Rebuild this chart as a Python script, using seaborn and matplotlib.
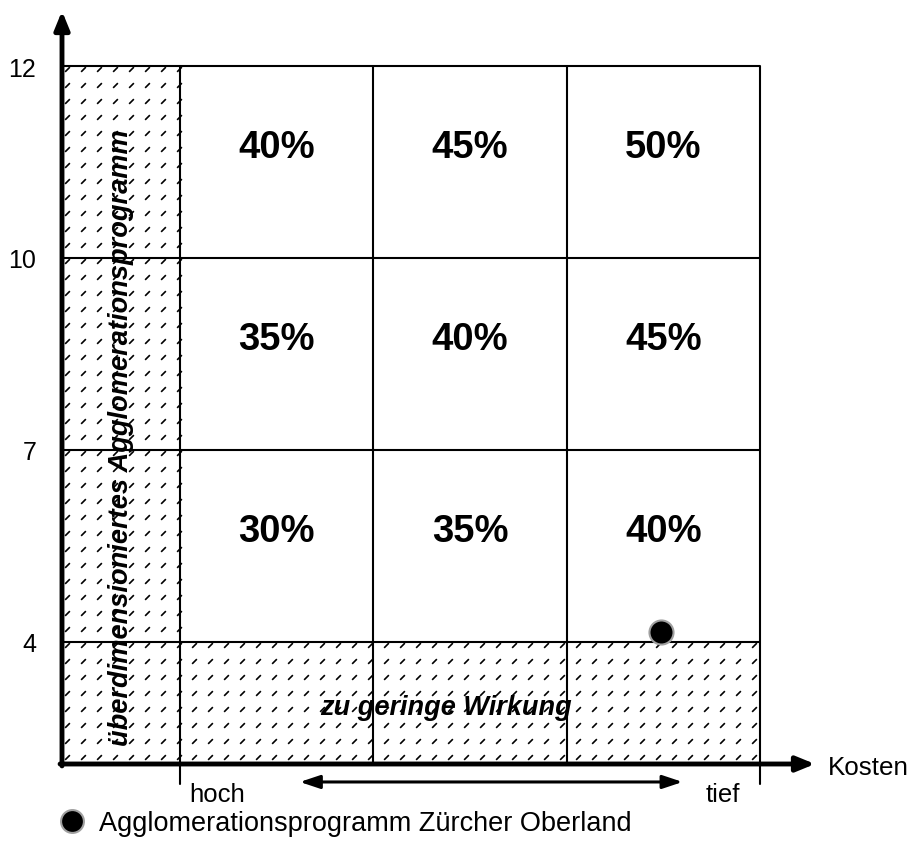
import numpy as np
import pandas as pd
import seaborn as sns
import matplotlib.pyplot as plt
from matplotlib.path import Path

# Data
score_ticks = [4, 7, 10, 12]            # Wirkung (y axis)
cost_labels = ["hoch", "tief"]           # Kosten (x axis, left to right)
n_cols = 3
# Beitragssätze, rows from bottom (score 4-7) to top (score 10-12)
shares = [[30, 35, 40],
          [35, 40, 45],
          [40, 45, 50]]
program_name = "Agglomerationsprogramm Zürcher Oberland"
program_cost = 2.49     # position on the cost scale (column units)
program_score = 4.16

sns.set_style("white")
plt.rcParams['font.family'] = ['Liberation Sans', 'DejaVu Sans']
plt.rcParams['text.color'] = 'black'
plt.rcParams['ytick.color'] = 'black'
plt.rcParams['ytick.labelcolor'] = 'black'

W, H = 914, 853
fig = plt.figure(figsize=(W / 100, H / 100), dpi=100)
# axes mapped so that one column = 193.3 px, one score band = 192 px
ax = fig.add_axes([62 / W, (H - 765) / H, 753 / W, 753 / H])
x0 = -118 / 193.3
y0 = -122 / 192
ax.set_xlim(x0, x0 + 753 / 193.3)
ax.set_ylim(y0, y0 + 753 / 192)
for s in ax.spines.values():
    s.set_visible(False)

def score_pos(v):
    return np.interp(v, score_ticks, np.arange(len(score_ticks)))

top = len(score_ticks) - 1

# hatched zones: left band (oversized) and bottom band (too little effect)
slash = Path([(-1, -1), (1, 1)])
dx, dy = 16 / 193.3, 16 / 192
hx, hy = np.meshgrid(np.arange(x0 + 5 / 193.3, 0, dx), np.arange(y0 + 7 / 192, top, dy))
ax.plot(hx.ravel(), hy.ravel(), ls='none', marker=slash, ms=3.4, mew=1.2, color='black')
hx, hy = np.meshgrid(np.arange(dx * 0.9, n_cols, dx), np.arange(y0 + 7 / 192, 0, dy))
ax.plot(hx.ravel(), hy.ravel(), ls='none', marker=slash, ms=3.4, mew=1.2, color='black')

# grid
for i in range(len(score_ticks)):
    ax.plot([x0, n_cols], [i, i], color='black', lw=1.5, solid_capstyle='butt')
for j in range(n_cols + 1):
    ybot = -0.74 if j in (0, n_cols) else y0
    ax.plot([j, j], [ybot, top], color='black', lw=1.5, clip_on=False)

# cell labels
for r, row in enumerate(shares):
    for c, v in enumerate(row):
        ax.text(c + 0.5, r + 0.58, f"{v}%", ha='center', va='center',
                fontsize=27.5, fontweight='bold')

ax.text(1.376, -0.339, "zu geringe Wirkung", ha='center', va='center',
        fontsize=19.5, fontweight='bold', fontstyle='italic')
ax.text(-0.305, 1.07, "überdimensioniertes Agglomerationsprogramm", ha='center',
        va='center', rotation=90, fontsize=19.6, fontweight='bold', fontstyle='italic')

# axes arrows
ax.annotate("", xy=(x0, y0 + 753 / 192), xytext=(x0, y0 - 0.01),
            arrowprops=dict(arrowstyle="-|>,head_length=1.1,head_width=0.45",
                            lw=3.5, color='black', shrinkA=0, shrinkB=0), annotation_clip=False)
ax.annotate("", xy=(x0 + 753 / 193.3, y0), xytext=(x0 - 0.01, y0),
            arrowprops=dict(arrowstyle="-|>,head_length=1.1,head_width=0.45",
                            lw=3.5, color='black', shrinkA=0, shrinkB=0), annotation_clip=False)
ax.text(3.35, y0 - 0.015, "Kosten", ha='left', va='center', fontsize=18.7)

# cost direction arrow
ax.annotate("", xy=(0.62, -0.729), xytext=(2.60, -0.729),
            arrowprops=dict(arrowstyle="<|-|>,head_length=1.2,head_width=0.4",
                            lw=2.2, color='black', shrinkA=0, shrinkB=0), annotation_clip=False)
ax.text(0.05, -0.79, cost_labels[0], ha='left', va='center', fontsize=18.5)
ax.text(2.90, -0.79, cost_labels[1], ha='right', va='center', fontsize=18.5)

# y ticks
ax.set_yticks(np.arange(len(score_ticks)))
ax.set_yticklabels([str(t) for t in score_ticks], fontsize=18)
ax.tick_params(axis='y', length=17, width=1.5, pad=1.5, direction='out',
               colors='black')
ax.set_xticks([])

# program point
df = pd.DataFrame({"cost": [program_cost], "pos": [score_pos(program_score)],
                   "name": [program_name]})
sns.scatterplot(data=df, x="cost", y="pos", hue="name", palette=['black'], s=300,
                edgecolor='#a0a0a0', linewidth=1.5, ax=ax, clip_on=False, zorder=5)
ax.set_xlabel("")
ax.set_ylabel("")
leg = ax.legend(loc='center left', bbox_to_anchor=(58 / W, 1 - 824 / H),
                bbox_transform=fig.transFigure, frameon=False, fontsize=19.5,
                handletextpad=0.5, borderaxespad=0, borderpad=0, handlelength=1.0,
                markerscale=0.95)

fig.savefig("out.png", dpi=100)
